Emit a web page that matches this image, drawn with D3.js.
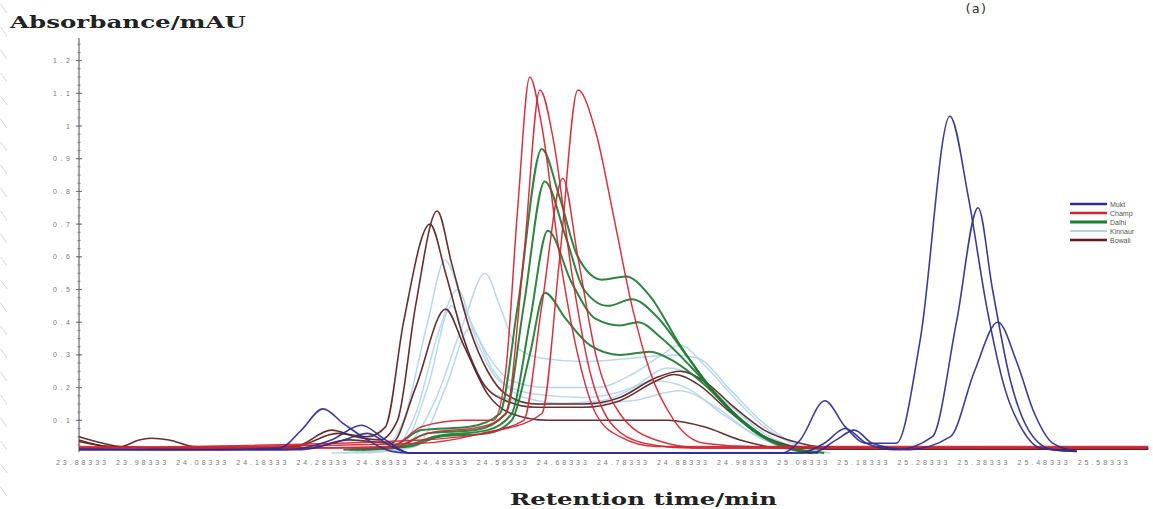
<!DOCTYPE html>
<html>
<head>
<meta charset="utf-8">
<script src="https://cdn.jsdelivr.net/npm/d3@7"></script>
<style>
  html, body { margin: 0; padding: 0; background: #fff; }
  svg { display: block; }
</style>
</head>
<body>
<svg id="chart" width="1153" height="509"></svg>
<script>
// ---- data: retention time (min), absorbance (mAU) ----
const xTickLabels = ["23.88333","23.98333","24.08333","24.18333","24.28333","24.38333","24.48333","24.58333","24.68333","24.78333","24.88333","24.98333","25.08333","25.18333","25.28333","25.38333","25.48333","25.58333"];
const yTickValues = [0.1,0.2,0.3,0.4,0.5,0.6,0.7,0.8,0.9,1,1.1,1.2];
const varieties = ["Mukt","Champ","Dalhi","Kinnaur","Bowali"];

const mukt1 = [[23.880,0.012],[24.10,0.01],[24.214,0.015],[24.25,0.07],[24.286,0.135],[24.32,0.09],[24.36,0.04],[24.40,0.005],[24.43,0.0],[25.05,0.0],[25.08,0.04],[25.121,0.16],[25.155,0.08],[25.19,0.03],[25.24,0.03],[25.28,0.35],[25.329,1.03],[25.36,0.78],[25.39,0.45],[25.42,0.2],[25.45,0.07],[25.48,0.015],[25.54,0.005]];
const mukt2 = [[23.880,0.01],[24.22,0.01],[24.30,0.04],[24.35,0.085],[24.39,0.04],[24.43,0.0],[25.08,0.0],[25.12,0.03],[25.155,0.075],[25.19,0.03],[25.24,0.01],[25.30,0.05],[25.34,0.4],[25.376,0.75],[25.40,0.5],[25.43,0.22],[25.46,0.07],[25.50,0.01],[25.54,0.005]];
const mukt3 = [[23.880,0.01],[24.25,0.01],[24.32,0.04],[24.36,0.06],[24.40,0.02],[24.43,0.0],[25.10,0.0],[25.14,0.04],[25.17,0.07],[25.20,0.03],[25.26,0.01],[25.33,0.05],[25.37,0.25],[25.409,0.40],[25.44,0.28],[25.47,0.12],[25.50,0.03],[25.54,0.005]];

const champ1 = [[23.880,0.02],[24.20,0.015],[24.40,0.02],[24.45,0.08],[24.52,0.1],[24.57,0.1],[24.59,0.25],[24.61,0.75],[24.630,1.15],[24.65,1.0],[24.68,0.6],[24.71,0.3],[24.74,0.12],[24.78,0.05],[24.84,0.02],[25.659,0.015]];
const champ2 = [[23.880,0.015],[24.40,0.015],[24.46,0.06],[24.55,0.08],[24.59,0.12],[24.62,0.6],[24.647,1.11],[24.67,0.95],[24.70,0.55],[24.73,0.25],[24.77,0.08],[24.82,0.03],[24.90,0.015],[25.659,0.015]];
const champ3 = [[23.880,0.015],[24.45,0.03],[24.55,0.06],[24.62,0.1],[24.65,0.45],[24.685,0.84],[24.71,0.6],[24.74,0.3],[24.78,0.12],[24.84,0.04],[24.92,0.015],[25.659,0.015]];
const champ4 = [[23.880,0.015],[24.45,0.04],[24.58,0.07],[24.65,0.12],[24.68,0.6],[24.710,1.11],[24.74,0.98],[24.77,0.72],[24.80,0.45],[24.83,0.25],[24.87,0.1],[24.92,0.03],[25.00,0.02],[25.659,0.02]];

const dalhi1 = [[24.32,0.01],[24.40,0.02],[24.45,0.07],[24.53,0.08],[24.58,0.12],[24.61,0.45],[24.650,0.93],[24.68,0.78],[24.71,0.6],[24.75,0.53],[24.79,0.54],[24.83,0.48],[24.88,0.33],[24.93,0.2],[24.98,0.1],[25.03,0.04],[25.08,0.01],[25.12,0.0]];
const dalhi2 = [[24.33,0.01],[24.41,0.02],[24.46,0.06],[24.54,0.07],[24.59,0.12],[24.62,0.45],[24.655,0.83],[24.69,0.66],[24.72,0.5],[24.76,0.45],[24.80,0.47],[24.84,0.42],[24.89,0.3],[24.94,0.18],[24.99,0.09],[25.04,0.03],[25.10,0.0]];
const dalhi3 = [[24.34,0.01],[24.42,0.02],[24.47,0.05],[24.56,0.07],[24.60,0.12],[24.63,0.4],[24.66,0.68],[24.70,0.52],[24.74,0.41],[24.78,0.39],[24.81,0.40],[24.85,0.35],[24.90,0.26],[24.95,0.16],[25.00,0.07],[25.05,0.02],[25.10,0.0]];
const dalhi4 = [[24.35,0.01],[24.43,0.02],[24.48,0.05],[24.56,0.06],[24.60,0.1],[24.63,0.3],[24.655,0.49],[24.69,0.41],[24.73,0.33],[24.78,0.3],[24.83,0.31],[24.87,0.28],[24.92,0.21],[24.97,0.12],[25.02,0.05],[25.07,0.01],[25.11,0.0]];

const kin1 = [[24.30,0.0],[24.38,0.01],[24.42,0.1],[24.46,0.4],[24.489,0.59],[24.52,0.45],[24.56,0.3],[24.60,0.22],[24.66,0.2],[24.74,0.2],[24.80,0.24],[24.85,0.3],[24.88,0.33],[24.92,0.27],[24.97,0.17],[25.02,0.08],[25.08,0.02],[25.13,0.0]];
const kin2 = [[24.34,0.0],[24.42,0.02],[24.47,0.15],[24.52,0.4],[24.556,0.55],[24.58,0.45],[24.61,0.32],[24.65,0.29],[24.72,0.28],[24.80,0.29],[24.87,0.3],[24.91,0.29],[24.96,0.2],[25.02,0.09],[25.08,0.02],[25.13,0.0]];
const kin3 = [[24.32,0.0],[24.40,0.01],[24.44,0.12],[24.48,0.38],[24.51,0.50],[24.54,0.35],[24.58,0.22],[24.64,0.18],[24.72,0.17],[24.80,0.2],[24.86,0.26],[24.90,0.24],[24.96,0.15],[25.02,0.06],[25.10,0.0]];
const kin4 = [[24.35,0.0],[24.42,0.03],[24.46,0.2],[24.50,0.45],[24.53,0.3],[24.57,0.18],[24.65,0.15],[24.75,0.16],[24.84,0.22],[24.89,0.2],[24.95,0.12],[25.02,0.04],[25.08,0.0]];
const kin5 = [[24.36,0.0],[24.44,0.02],[24.49,0.2],[24.53,0.38],[24.57,0.25],[24.62,0.17],[24.70,0.15],[24.80,0.16],[24.88,0.19],[24.94,0.14],[25.00,0.06],[25.06,0.01]];

const bow1 = [[23.880,0.05],[23.92,0.03],[23.95,0.02],[23.98,0.04],[24.00,0.045],[24.03,0.04],[24.07,0.02],[24.15,0.015],[24.24,0.02],[24.30,0.07],[24.34,0.05],[24.38,0.04],[24.41,0.1],[24.44,0.45],[24.476,0.74],[24.50,0.58],[24.53,0.38],[24.56,0.25],[24.59,0.18],[24.64,0.15],[24.72,0.15],[24.78,0.17],[24.84,0.23],[24.88,0.25],[24.92,0.22],[24.97,0.14],[25.02,0.07],[25.08,0.03],[25.14,0.015],[25.659,0.015]];
const bow2 = [[23.880,0.04],[23.93,0.02],[24.10,0.015],[24.24,0.02],[24.31,0.06],[24.36,0.05],[24.39,0.08],[24.42,0.4],[24.464,0.70],[24.49,0.55],[24.52,0.35],[24.55,0.22],[24.59,0.16],[24.64,0.14],[24.72,0.14],[24.78,0.16],[24.84,0.22],[24.87,0.24],[24.91,0.21],[24.96,0.13],[25.01,0.06],[25.07,0.02],[25.12,0.012],[25.659,0.012]];
const bow3 = [[23.880,0.035],[23.93,0.02],[24.10,0.012],[24.26,0.015],[24.33,0.04],[24.40,0.03],[24.44,0.2],[24.49,0.44],[24.52,0.33],[24.56,0.18],[24.60,0.12],[24.66,0.1],[24.78,0.1],[24.86,0.1],[24.92,0.08],[24.98,0.04],[25.05,0.015],[25.659,0.012]];

const seriesColors = { Mukt: "#2d2d8f", Champ: "#cf2533", Dalhi: "#1d7a32", Kinnaur: "#b4d5ea", Bowali: "#5a1e1e" };
const seriesWidths = { Mukt: 1.6, Champ: 1.5, Dalhi: 2.0, Kinnaur: 1.5, Bowali: 1.6 };
const legendWidths = { Mukt: 2.4, Champ: 2.4, Dalhi: 3.2, Kinnaur: 2.0, Bowali: 2.4 };

// drawing order: lightest traces underneath
const traces = [
  ["Kinnaur", kin1],["Kinnaur", kin2],["Kinnaur", kin3],["Kinnaur", kin4],["Kinnaur", kin5],
  ["Bowali", bow1],["Bowali", bow2],["Bowali", bow3],
  ["Dalhi", dalhi1],["Dalhi", dalhi2],["Dalhi", dalhi3],["Dalhi", dalhi4],
  ["Champ", champ1],["Champ", champ2],["Champ", champ3],["Champ", champ4],
  ["Mukt", mukt1],["Mukt", mukt2],["Mukt", mukt3]
];

// ---- layout ----
const svg = d3.select("#chart");
svg.append("rect").attr("width", 1153).attr("height", 509).attr("fill", "#fff");

const x = d3.scaleLinear().domain([23.88333, 25.58333]).range([81, 81 + 601 * 1.7]);
const y = d3.scaleLinear().domain([0, 1.2]).range([453, 453 - 392.4]);

// faint hatch along the left edge
const hatch = svg.append("g").attr("stroke", "#d4d4d4").attr("stroke-width", 1);
d3.range(4, 509, 23).forEach(v => {
  hatch.append("line").attr("x1", 0.5).attr("y1", v).attr("x2", 7).attr("y2", v + 9);
});

// y axis
const yAxis = svg.append("g");
yAxis.append("line").attr("x1", 79).attr("x2", 79).attr("y1", 38).attr("y2", 452)
  .attr("stroke", "#6a6a6a").attr("stroke-width", 1.2);
yAxis.selectAll("line.minor").data(d3.range(1, 51).map(i => i * 0.025)).join("line")
  .attr("class", "minor")
  .attr("x1", 77.5).attr("x2", 80.5)
  .attr("y1", d => y(d)).attr("y2", d => y(d))
  .attr("stroke", "#7a7a7a").attr("stroke-width", 1);
yAxis.selectAll("line.major").data(yTickValues).join("line")
  .attr("class", "major")
  .attr("x1", 76).attr("x2", 82)
  .attr("y1", d => y(d)).attr("y2", d => y(d))
  .attr("stroke", "#6a6a6a").attr("stroke-width", 1);
yAxis.selectAll("text").data(yTickValues).join("text")
  .attr("x", 70).attr("y", d => y(d) + 2.5)
  .attr("text-anchor", "end")
  .attr("font-family", "Liberation Sans, Arial, sans-serif")
  .attr("font-size", 7).attr("fill", "#777")
  .each(function (d) {
    const s = String(d);
    d3.select(this).text(s);
    if (s.length > 1) d3.select(this).attr("textLength", 17).attr("lengthAdjust", "spacing");
  });

// x tick labels
svg.append("g").selectAll("text").data(xTickLabels).join("text")
  .attr("x", d => x(+d)).attr("y", 465)
  .attr("text-anchor", "middle")
  .attr("font-family", "Liberation Sans, Arial, sans-serif")
  .attr("font-size", 7).attr("fill", "#7a7a7a")
  .attr("textLength", 50).attr("lengthAdjust", "spacing")
  .text(d => d);

// chromatogram traces
const line = d3.line().x(d => x(d[0])).y(d => y(d[1])).curve(d3.curveMonotoneX);
svg.append("g").attr("fill", "none").attr("stroke-linejoin", "round")
  .selectAll("path").data(traces).join("path")
  .attr("d", d => line(d[1]))
  .attr("stroke", d => seriesColors[d[0]])
  .attr("stroke-width", d => seriesWidths[d[0]])
  .attr("stroke-opacity", 0.92);

// legend
const legend = svg.append("g");
varieties.forEach((v, i) => {
  const ly = 204 + i * 9;
  legend.append("line").attr("x1", 1070).attr("x2", 1107).attr("y1", ly).attr("y2", ly)
    .attr("stroke", seriesColors[v]).attr("stroke-width", legendWidths[v]);
  legend.append("text").attr("x", 1110).attr("y", ly + 2.5)
    .attr("font-family", "Liberation Sans, Arial, sans-serif")
    .attr("font-size", 7).attr("fill", "#555").text(v);
});

// titles
svg.append("text").attr("x", 10).attr("y", 28)
  .attr("font-family", "DejaVu Serif, serif").attr("font-weight", "bold")
  .attr("font-size", 17).attr("fill", "#222")
  .attr("textLength", 236).attr("lengthAdjust", "spacingAndGlyphs")
  .text("Absorbance/mAU");
svg.append("text").attr("x", 510).attr("y", 505)
  .attr("font-family", "DejaVu Serif, serif").attr("font-weight", "bold")
  .attr("font-size", 16).attr("fill", "#222")
  .attr("textLength", 267).attr("lengthAdjust", "spacingAndGlyphs")
  .text("Retention time/min");
svg.append("text").attr("x", 964).attr("y", 13)
  .attr("font-family", "DejaVu Sans Mono, monospace")
  .attr("font-size", 13).attr("fill", "#333")
  .text("(a)");
</script>
</body>
</html>
